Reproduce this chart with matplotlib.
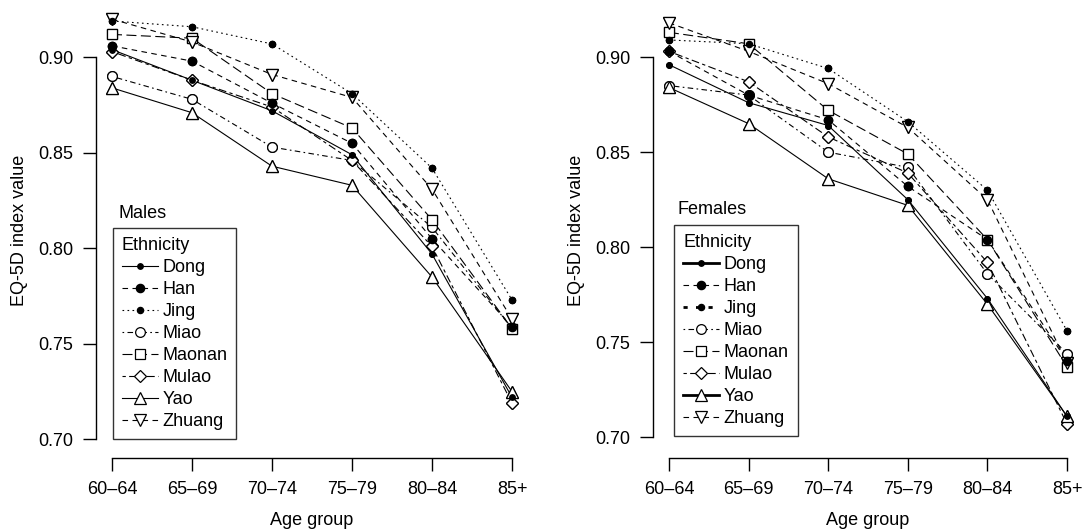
import matplotlib
matplotlib.use("Agg")
import matplotlib.pyplot as plt

plt.rcParams['font.family'] = ['Liberation Sans', 'DejaVu Sans']

age_groups = ["60\u201364", "65\u201369", "70\u201374", "75\u201379", "80\u201384", "85+"]
ethnicities = ["Dong", "Han", "Jing", "Miao", "Maonan", "Mulao", "Yao", "Zhuang"]

males_dong   = [0.904, 0.888, 0.872, 0.849, 0.797, 0.722]
males_han    = [0.906, 0.898, 0.876, 0.855, 0.805, 0.759]
males_jing   = [0.919, 0.916, 0.907, 0.881, 0.842, 0.773]
males_miao   = [0.890, 0.878, 0.853, 0.846, 0.811, 0.758]
males_maonan = [0.912, 0.910, 0.881, 0.863, 0.815, 0.758]
males_mulao  = [0.903, 0.888, 0.874, 0.846, 0.801, 0.719]
males_yao    = [0.884, 0.871, 0.843, 0.833, 0.785, 0.725]
males_zhuang = [0.920, 0.908, 0.891, 0.879, 0.831, 0.763]

females_dong   = [0.896, 0.876, 0.864, 0.825, 0.773, 0.711]
females_han    = [0.903, 0.880, 0.867, 0.832, 0.804, 0.740]
females_jing   = [0.909, 0.907, 0.894, 0.866, 0.830, 0.756]
females_miao   = [0.885, 0.880, 0.850, 0.842, 0.786, 0.744]
females_maonan = [0.913, 0.907, 0.872, 0.849, 0.804, 0.737]
females_mulao  = [0.903, 0.887, 0.858, 0.839, 0.792, 0.707]
females_yao    = [0.884, 0.865, 0.836, 0.822, 0.770, 0.711]
females_zhuang = [0.918, 0.903, 0.886, 0.863, 0.825, 0.739]

males = [males_dong, males_han, males_jing, males_miao, males_maonan,
         males_mulao, males_yao, males_zhuang]
females = [females_dong, females_han, females_jing, females_miao, females_maonan,
           females_mulao, females_yao, females_zhuang]

y_ticks = [0.70, 0.75, 0.80, 0.85, 0.90]

# styles: (linestyle, marker, filled, markersize)
styles = [
    ('-', 'o', True, 4),
    ((0, (5, 4)), 'o', True, 6),
    ((0, (1.5, 3)), 'o', True, 4.5),
    ((0, (1.5, 3, 5, 3)), 'o', False, 7),
    ((0, (9, 4)), 's', False, 7),
    ((0, (3, 3, 7, 3)), 'D', False, 6),
    ('-', '^', False, 8),
    ((0, (5, 4)), 'v', False, 8),
]

W, H = 1083, 529
fig = plt.figure(figsize=(W / 100, H / 100), dpi=100)


def make_panel(rect_px, ylim, data, title, leg_xy, title_xy, thick_legend):
    l, r, top, bot = rect_px
    ax = fig.add_axes([l / W, (H - bot) / H, (r - l) / W, (bot - top) / H])
    x = list(range(len(age_groups)))
    handles = []
    for vals, (ls, mk, filled, ms) in zip(data, styles):
        fc = 'black' if filled else 'white'
        ln, = ax.plot(x, vals, linestyle=ls, color='black', lw=0.8,
                      marker=mk, ms=ms, mfc=fc, mec='black', mew=0.9,
                      zorder=2)
        handles.append(ln)
    # redraw markers on top of all lines (open first, then filled)
    for vals, (ls, mk, filled, ms) in sorted(zip(data, styles), key=lambda t: t[1][2]):
        fc = 'black' if filled else 'white'
        ax.plot(x, vals, linestyle='none', marker=mk, ms=ms, mfc=fc,
                mec='black', mew=0.9, zorder=3 + (1 if filled else 0))
    ax.set_xlim(-0.2, 5.2)
    ax.set_ylim(*ylim)
    ax.set_xticks(x)
    ax.set_xticklabels(age_groups)
    ax.set_yticks(y_ticks)
    ax.set_yticklabels([f"{v:.2f}" for v in y_ticks])
    for s in ['top', 'right']:
        ax.spines[s].set_visible(False)
    ax.spines['left'].set_bounds(0.70, 0.90)
    ax.spines['bottom'].set_bounds(0, 5)
    ax.spines['left'].set_linewidth(1.0)
    ax.spines['bottom'].set_linewidth(1.0)
    ax.tick_params(axis='both', length=9.5, width=1.0, pad=7, labelsize=13,
                   colors='black')
    ax.set_xlabel("Age group", fontsize=13, labelpad=10)
    ax.set_ylabel("EQ-5D index value", fontsize=13, labelpad=7)
    ax.text(title_xy[0], title_xy[1], title, transform=ax.transAxes,
            fontsize=13, ha='left', va='center')
    leg = ax.legend(handles, ethnicities, title="Ethnicity", loc='upper left',
                    bbox_to_anchor=leg_xy, borderaxespad=0, fontsize=13,
                    title_fontsize=13, numpoints=1, handlelength=2.0,
                    handletextpad=0.25, labelspacing=0.28, borderpad=0.5,
                    frameon=True, fancybox=False, alignment='left')
    leg.get_frame().set_edgecolor('black')
    leg.get_frame().set_linewidth(1.0)
    if thick_legend:
        for i, hl in enumerate(leg.get_lines()):
            if ethnicities[i] in ("Dong", "Jing", "Yao"):
                hl.set_linewidth(2.0)
    return ax


ax1 = make_panel((96, 528, 2.3, 457.7), (0.6904, 0.9288), males, "Males",
                 (0.0387, 0.5044), (0.053, 0.537), False)
ax2 = make_panel((653, 1083, 2.3, 457.7), (0.6893, 0.9288), females, "Females",
                 (0.0488, 0.511), (0.058, 0.546), True)

fig.savefig("out.png", dpi=100)
